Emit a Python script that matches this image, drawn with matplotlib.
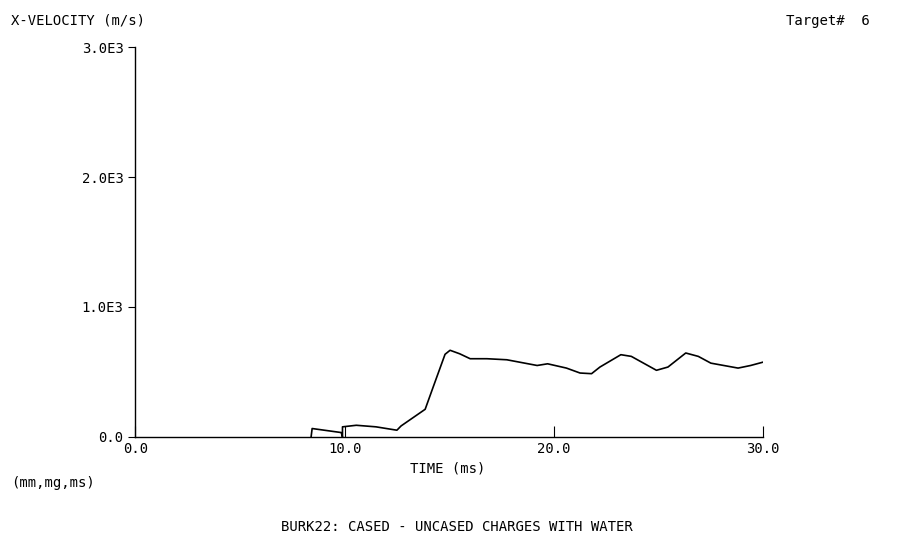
import matplotlib
matplotlib.use("Agg")
from matplotlib import pyplot as plt

# time (ms) and x-velocity (m/s)
time_ms = [8.4, 8.45, 9.84, 9.9, 9.9, 10.56, 11.5, 12.5, 12.7, 13.85, 14.25,
           14.8, 15.04, 15.5, 16.0, 16.8, 17.75, 19.2, 19.7, 20.6, 21.25,
           21.8, 22.2, 23.2, 23.7, 24.9, 25.45, 26.3, 26.9, 27.5, 28.8,
           29.4, 30.0]
velocity = [0, 65, 34, 0, 78, 90, 78, 52, 85, 213, 392,
            636, 667, 640, 602, 602, 594, 550, 563, 530, 492,
            487, 538, 633, 620, 513, 538, 646, 620, 568, 530,
            550, 576]
x_ticks = [0.0, 10.0, 20.0, 30.0]
x_labels = ["0.0", "10.0", "20.0", "30.0"]
y_ticks = [0, 1000, 2000, 3000]
y_labels = ["0.0", "1.0E3", "2.0E3", "3.0E3"]

font = "DejaVu Sans Mono"
fig = plt.figure(figsize=(9.14, 5.5), dpi=100)
ax = fig.add_axes([0.148, 0.2055, 0.687, 0.709])
ax.plot(time_ms, velocity, "-k", lw=1.2)
ax.set_xlim(0, 30)
ax.set_ylim(0, 3000)
for s in ["top", "right"]:
    ax.spines[s].set_visible(False)
for s in ["left", "bottom"]:
    ax.spines[s].set_linewidth(1.0)
ax.set_xticks(x_ticks)
ax.set_xticklabels(x_labels, family=font, fontsize=10)
ax.set_yticks(y_ticks)
ax.set_yticklabels(y_labels, family=font, fontsize=10)
ax.tick_params(axis="x", direction="in", length=8)
ax.tick_params(axis="y", direction="out", length=5)

fig.text(0.012, 0.955, "X-VELOCITY (m/s)", family=font, fontsize=10)
fig.text(0.86, 0.955, "Target#  6", family=font, fontsize=10)
fig.text(0.49, 0.14, "TIME (ms)", family=font, fontsize=10, ha="center")
fig.text(0.012, 0.115, "(mm,mg,ms)", family=font, fontsize=10)
fig.text(0.5, 0.035, "BURK22: CASED - UNCASED CHARGES WITH WATER",
         family=font, fontsize=10, ha="center")

fig.savefig("out.png", dpi=100)
